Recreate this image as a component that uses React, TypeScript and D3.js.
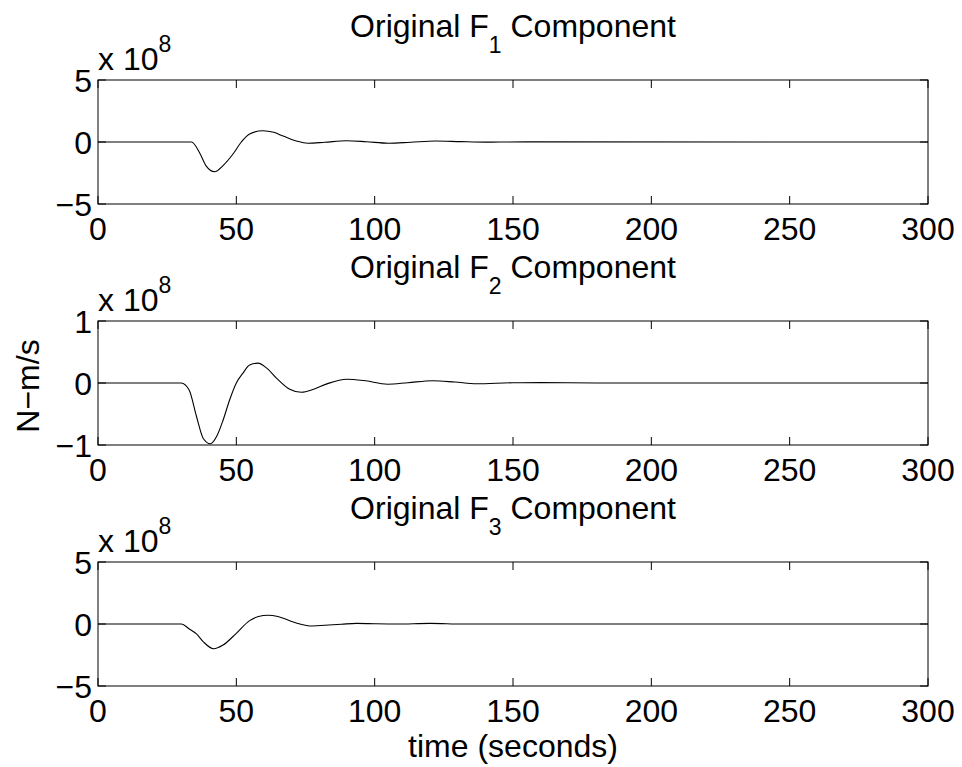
import React from "react";
import * as d3 from "d3";

// Time samples (seconds) and component values (units of 1e8 N-m/s)
const f1Time = [0, 33.8, 36.8, 39, 42.2, 45.2, 48.8, 51.8, 54.8, 59.6, 63.5, 66.9, 71.7, 75.8, 82, 89.8, 97, 105, 113, 122, 131, 140, 155, 300];
const f1Vals = [0, 0, -0.9, -1.9, -2.4, -1.9, -0.97, 0, 0.65, 0.91, 0.78, 0.48, 0.08, -0.1, -0.02, 0.1, 0.02, -0.1, -0.02, 0.08, 0.03, -0.01, 0.01, 0];

const f2Time = [0, 30.1, 32.9, 35.6, 38, 40.6, 43, 45.2, 47.6, 50, 52.4, 54.8, 57.8, 61, 64.5, 69.3, 73.5, 78, 83, 89.8, 96, 104.7, 112, 121, 129, 136.8, 150, 160, 180, 300];
const f2Vals = [0, 0, -0.11, -0.54, -0.89, -0.98, -0.85, -0.6, -0.27, 0, 0.16, 0.29, 0.32, 0.24, 0.08, -0.1, -0.15, -0.1, -0.01, 0.06, 0.04, -0.02, 0.005, 0.037, 0.015, -0.012, 0.004, 0.006, 0, 0];

const f3Time = [0, 30.1, 33, 35.6, 38, 41.8, 45.2, 50, 54.8, 58, 61.4, 65, 69.3, 73, 76.5, 82, 88, 93.4, 100, 108, 120, 132, 300];
const f3Vals = [0, 0, -0.4, -0.8, -1.42, -2.0, -1.7, -0.75, 0.27, 0.6, 0.7, 0.6, 0.27, 0, -0.16, -0.1, -0.02, 0.05, 0.02, 0, 0.05, 0, 0];

const xTicks = [0, 50, 100, 150, 200, 250, 300];
const panelLabels = ["1", "2", "3"];
const yDomains: [number, number][] = [[-5, 5], [-1, 1], [-5, 5]];
const yTickSets = [[-5, 0, 5], [-1, 0, 1], [-5, 0, 5]];
const exponent = "8";

const W = 962;
const H = 767;
const left = 98;
const right = 928;
const tops = [80, 321, 562];
const plotH = 124;
const font = "'Liberation Sans', Arial, Helvetica, sans-serif";
const fs = 32;
const subFs = 23;
const tickLen = 8;

function fmt(v: number) {
  return v < 0 ? "\u2212" + Math.abs(v) : String(v);
}

function Panel({ idx, time, vals }: { idx: number; time: number[]; vals: number[] }) {
  const top = tops[idx];
  const x = d3.scaleLinear().domain([0, 300]).range([left, right]);
  const y = d3.scaleLinear().domain(yDomains[idx]).range([top + plotH, top]);
  const line = d3
    .line<number>()
    .x((_, i) => x(time[i]))
    .y((v) => y(v))
    .curve(d3.curveMonotoneX);
  const bottom = top + plotH;
  return (
    <g>
      <path d={line(vals) || ""} fill="none" stroke="#000" strokeWidth={1.1} />
      <rect x={left} y={top} width={right - left} height={plotH} fill="none" stroke="#000" strokeWidth={1} />
      {xTicks.map((t) => (
        <g key={"x" + t}>
          <line x1={x(t)} x2={x(t)} y1={bottom} y2={bottom - tickLen} stroke="#000" />
          <line x1={x(t)} x2={x(t)} y1={top} y2={top + tickLen} stroke="#000" />
          <text x={x(t)} y={bottom + 36} textAnchor="middle" fontSize={fs} fontFamily={font}>
            {t}
          </text>
        </g>
      ))}
      {yTickSets[idx].map((t) => (
        <g key={"y" + t}>
          <line x1={left} x2={left + tickLen} y1={y(t)} y2={y(t)} stroke="#000" />
          <line x1={right} x2={right - tickLen} y1={y(t)} y2={y(t)} stroke="#000" />
          <text x={left - 6} y={y(t) + 12} textAnchor="end" fontSize={fs} fontFamily={font}>
            {fmt(t)}
          </text>
        </g>
      ))}
      <text x={left} y={top - 10} fontSize={fs} fontFamily={font}>
        x 10
        <tspan fontSize={subFs} dy={-18}>
          {exponent}
        </tspan>
      </text>
      <text x={(left + right) / 2} y={top - 43} textAnchor="middle" fontSize={fs} fontFamily={font}>
        Original F
        <tspan fontSize={subFs} dy={16}>
          {panelLabels[idx]}
        </tspan>
        <tspan dy={-16}> Component</tspan>
      </text>
    </g>
  );
}

export default function App() {
  const series = [
    [f1Time, f1Vals],
    [f2Time, f2Vals],
    [f3Time, f3Vals],
  ];
  return (
    <svg width={W} height={H} style={{ position: "absolute", left: 0, top: 0, background: "#fff" }}>
      <rect width={W} height={H} fill="#fff" />
      {series.map(([t, v], i) => (
        <Panel key={i} idx={i} time={t} vals={v} />
      ))}
      <text
        transform={`translate(39, ${tops[1] + plotH / 2 + 3}) rotate(-90)`}
        textAnchor="middle"
        fontSize={fs}
        fontFamily={font}
      >
        N{"\u2212"}m/s
      </text>
      <text x={(left + right) / 2} y={757} textAnchor="middle" fontSize={fs} fontFamily={font}>
        time (seconds)
      </text>
    </svg>
  );
}
